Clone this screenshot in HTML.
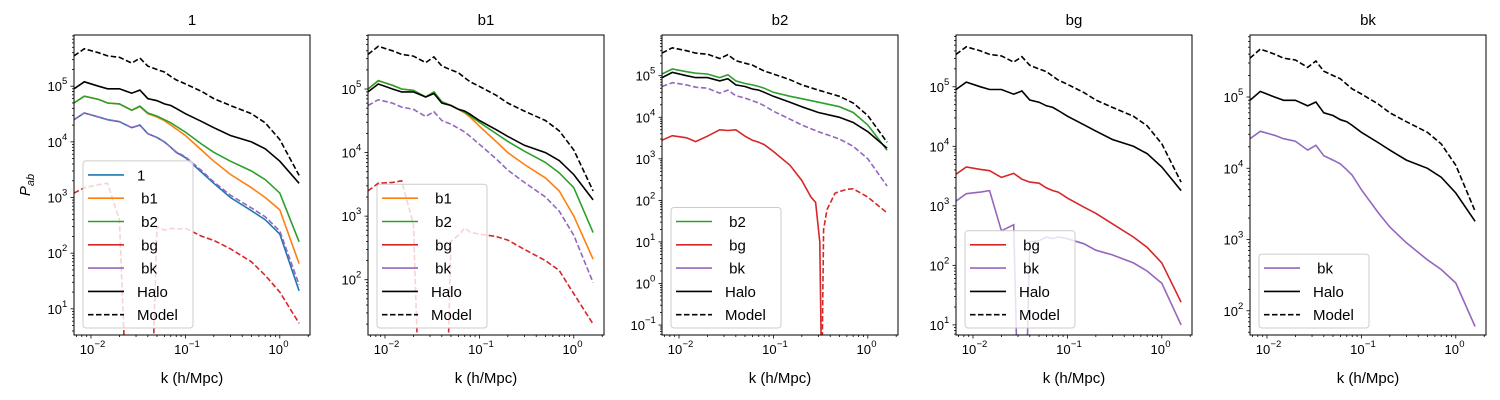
<!DOCTYPE html>
<html><head><meta charset="utf-8"><style>
html,body{margin:0;padding:0;background:#fff;width:1500px;height:400px;overflow:hidden;}
svg{display:block;font-family:"Liberation Sans","DejaVu Sans",sans-serif;}
</style></head><body>
<svg id="fig" width="1500" height="400" viewBox="0 0 1500 400"></svg>
<script>
// ---- data ----
const kGrid = [0.0066,0.0085,0.012,0.015,0.02,0.027,0.033,0.04,0.05,0.06,0.07,0.08,0.1,0.15,0.2,0.3,0.5,0.7,1.0,1.6];
const halo  = [9e4,1.2e5,1e5,9e4,9e4,7.5e4,8.5e4,6e4,5.5e4,4.8e4,4.5e4,4e4,3.2e4,2.3e4,1.8e4,1.3e4,1e4,7.5e3,4.5e3,1.8e3];
const model = [3.5e5,4.7e5,4e5,3.5e5,3.3e5,2.6e5,3.2e5,2.3e5,2e5,1.8e5,1.5e5,1.3e5,1.1e5,8e4,6e4,4.5e4,3.2e4,2.2e4,1.1e4,2.5e3];
// panel "1"
const p1One = [2.5e4,3.3e4,2.8e4,2.5e4,2.3e4,1.8e4,2e4,1.4e4,1.2e4,1e4,8e3,6.5e3,5.2e3,2.8e3,1.8e3,1e3,580,400,220,21];
const p1B1  = [5e4,6.6e4,5.8e4,5e4,4.8e4,3.7e4,4.3e4,3.2e4,2.8e4,2.4e4,2e4,1.7e4,1.3e4,7e3,4.5e3,2.6e3,1.5e3,1e3,600,65];
const p1B2  = [5e4,6.6e4,5.8e4,5e4,4.8e4,3.7e4,4.4e4,3.3e4,2.9e4,2.5e4,2.2e4,1.9e4,1.5e4,9e3,6.5e3,4.5e3,3e3,2.1e3,1.2e3,160];
const p1Bg  = [1.2e3,1.5e3,1.7e3,1.8e3,400,1e-3,1e-3,1e-3,300,260,280,270,280,200,170,120,70,40,20,5.5];
const p1Bk  = [2.5e4,3.3e4,2.8e4,2.5e4,2.3e4,1.8e4,2e4,1.4e4,1.2e4,1e4,8e3,6.6e3,5.4e3,3e3,1.9e3,1.1e3,650,450,250,27];
// panel "b1"
const p2B1  = [1e5,1.35e5,1.15e5,1e5,9.5e4,7.5e4,9e4,6.3e4,5.5e4,4.8e4,4.2e4,3.6e4,2.6e4,1.5e4,1e4,6.5e3,4e3,2.5e3,1e3,210];
const p2B2  = [1e5,1.35e5,1.15e5,1e5,9.5e4,7.5e4,9e4,6.3e4,5.5e4,4.8e4,4.3e4,3.8e4,3e4,2e4,1.5e4,1.05e4,7e3,4.8e3,2.8e3,550];
const p2Bg  = [2.5e3,3.3e3,3.4e3,3.6e3,750,1e-3,1e-3,1e-3,400,500,650,560,520,480,420,300,200,140,60,20];
const p2Bk  = [5.5e4,6.8e4,6e4,5.2e4,4.8e4,3.7e4,4.4e4,3.2e4,2.8e4,2.4e4,2.1e4,1.8e4,1.35e4,8e3,5.3e3,3.4e3,2e3,1.2e3,500,90];
// panel "b2"
const p3B2  = [1.1e5,1.45e5,1.25e5,1.15e5,1.1e5,9e4,1.05e5,7.5e4,6.5e4,6e4,5.5e4,5e4,4e4,3.2e4,2.8e4,2.3e4,1.8e4,1.3e4,6.5e3,1.6e3];
const p3Bk  = [5.5e4,6.8e4,6e4,5.3e4,5e4,3.8e4,4.5e4,3.3e4,2.9e4,2.5e4,2.2e4,1.9e4,1.4e4,9e3,6.5e3,4.5e3,3e3,2e3,1e3,220];
const kBgPos3 = [0.0066,0.0085,0.012,0.015,0.02,0.027,0.033,0.04,0.05,0.06,0.07,0.08,0.1,0.15,0.2,0.25,0.28,0.31,0.32];
const p3BgPos = [2.8e3,3.6e3,3.2e3,2.6e3,3.5e3,5e3,4.8e3,5e3,3.5e3,2.8e3,2.5e3,2.2e3,1.5e3,700,300,120,90,10,0.05];
const kBgNeg3 = [0.33,0.34,0.37,0.45,0.6,0.7,1.0,1.6];
const p3BgNeg = [0.05,20,60,150,185,190,120,50];
// panel "bg"
const p4Bg  = [3.4e3,4.5e3,4.1e3,3.9e3,3e3,3.5e3,2.8e3,2.5e3,2.4e3,2e3,1.8e3,1.7e3,1.35e3,950,750,500,300,200,110,24];
const p4Bk  = [1.2e3,1.6e3,1.7e3,1.8e3,380,480,1e-3,250,260,300,280,300,280,230,180,150,110,80,50,10];
// panel "bk"
const p5Bk  = [2.6e4,3.3e4,2.9e4,2.6e4,2.4e4,1.8e4,2.1e4,1.5e4,1.3e4,1.15e4,9.5e3,8e3,5e3,2.4e3,1.5e3,900,520,380,245,60];
// axes
const panelTitles = ["1","b1","b2","bg","bk"];
const yMinLog = [0.53,1.13,-1.24,0.83,1.66];
const yMaxLog = [5.92,5.85,5.98,5.87,5.87];
const xTickExps = [-2,-1,0];

const C = {blue:"#1f77b4",orange:"#ff7f0e",green:"#2ca02c",red:"#d62728",purple:"#9467bd",black:"#000"};
const svg = document.getElementById('fig');
const NS = "http://www.w3.org/2000/svg";
function mk(tag, attrs, parent){const e=document.createElementNS(NS,tag);for(const a in attrs)e.setAttribute(a,attrs[a]);(parent||svg).appendChild(e);return e;}

const panels = [
  {series:[{k:kGrid,v:p1One,c:C.blue,d:false,n:"1"},{k:kGrid,v:p1B1,c:C.orange,d:false,n:"b1"},{k:kGrid,v:p1B2,c:C.green,d:false,n:"b2"},{k:kGrid,v:p1Bg,c:C.red,d:true,n:"bg"},{k:kGrid,v:p1Bk,c:C.purple,d:true,n:"bk"}],
   legend:[["1",C.blue,false],[" b1",C.orange,false],[" b2",C.green,false],[" bg",C.red,false],[" bk",C.purple,false],["Halo","#000",false],["Model","#000",true]]},
  {series:[{k:kGrid,v:p2B1,c:C.orange,d:false,n:"b1"},{k:kGrid,v:p2B2,c:C.green,d:false,n:"b2"},{k:kGrid,v:p2Bg,c:C.red,d:true,n:"bg"},{k:kGrid,v:p2Bk,c:C.purple,d:true,n:"bk"}],
   legend:[[" b1",C.orange,false],[" b2",C.green,false],[" bg",C.red,false],[" bk",C.purple,false],["Halo","#000",false],["Model","#000",true]]},
  {series:[{k:kGrid,v:p3B2,c:C.green,d:false,n:"b2"},{k:kBgPos3,v:p3BgPos,c:C.red,d:false,n:"bg"},{k:kBgNeg3,v:p3BgNeg,c:C.red,d:true,n:"bg-neg"},{k:kGrid,v:p3Bk,c:C.purple,d:true,n:"bk"}],
   legend:[[" b2",C.green,false],[" bg",C.red,false],[" bk",C.purple,false],["Halo","#000",false],["Model","#000",true]]},
  {series:[{k:kGrid,v:p4Bg,c:C.red,d:false,n:"bg"},{k:kGrid,v:p4Bk,c:C.purple,d:false,n:"bk"}],
   legend:[[" bg",C.red,false],[" bk",C.purple,false],["Halo","#000",false],["Model","#000",true]]},
  {series:[{k:kGrid,v:p5Bk,c:C.purple,d:false,n:"bk"}],
   legend:[[" bk",C.purple,false],["Halo","#000",false],["Model","#000",true]]}
];

const lefts=[74,368,662,956,1250], W=236, TOP=35, BOT=335;
const xMinLog=-2.18, xMaxLog=0.32;

panels.forEach((p,i)=>{
  const L=lefts[i];
  const g=mk('g',{});
  
  
  const xs=k=>L+(Math.log10(k)-xMinLog)/(xMaxLog-xMinLog)*W;
  const ys=v=>BOT-(Math.log10(Math.max(v,1e-9))-yMinLog[i])/(yMaxLog[i]-yMinLog[i])*(BOT-TOP);
  const cp=mk('clipPath',{id:'cp'+i},g); mk('rect',{x:L,y:TOP,width:W,height:BOT-TOP},cp);
  const plot=mk('g',{'clip-path':'url(#cp'+i+')'},g);
  const all=[...p.series,{k:kGrid,v:halo,c:"#000",d:false,n:"halo"},{k:kGrid,v:model,c:"#000",d:true,n:"model"}];
  all.forEach(s=>{
    const pts=s.k.map((k,j)=>xs(k).toFixed(1)+','+ys(s.v[j]).toFixed(1)).join(' ');
    const pl=mk('polyline',{points:pts,fill:'none',stroke:s.c,'stroke-width':1.6,'stroke-dasharray':s.d?'5.5,2.5':'none'},plot);
    
    
  });
  const fr=mk('rect',{x:L,y:TOP,width:W,height:BOT-TOP,fill:'none',stroke:'#000','stroke-width':1},g);
  
  
  for(let e=-3;e<=1;e++){for(let m=1;m<10;m++){const k=m*Math.pow(10,e);const lk=Math.log10(k);if(lk<xMinLog||lk>xMaxLog)continue;const x=xs(k);mk('line',{x1:x,x2:x,y1:BOT,y2:BOT+(m===1?3.5:2),stroke:'#000','stroke-width':0.8},g);}}
  xTickExps.forEach(e=>{const x=xs(Math.pow(10,e));
    const t=mk('text',{x:x-4,y:BOT+19,'text-anchor':'middle','font-size':13},g);t.textContent='10';
    
    const s=mk('text',{x:x+3.5,y:BOT+12,'text-anchor':'start','font-size':9.5},g);s.textContent=(e<0?'\u2212'+(-e):String(e));});
  for(let e=Math.floor(yMinLog[i]);e<=Math.ceil(yMaxLog[i]);e++){for(let m=1;m<10;m++){const lv=e+Math.log10(m);if(lv<yMinLog[i]||lv>yMaxLog[i])continue;const y=ys(Math.pow(10,lv));mk('line',{x1:L-(m===1?3.5:2),x2:L,y1:y,y2:y,stroke:'#000','stroke-width':0.8},g);
    if(m===1){const ex=(e<0?'\u2212'+(-e):String(e));const sw=e<0?11:6;
      const t=mk('text',{x:L-6-sw,y:y+5,'text-anchor':'end','font-size':13},g);t.textContent='10';
      
      const s=mk('text',{x:L-6-sw,y:y-2,'text-anchor':'start','font-size':9.5},g);s.textContent=ex;}}}
  const tt=mk('text',{x:L+W/2,y:25,'text-anchor':'middle','font-size':15},g);tt.textContent=panelTitles[i];
  
  const xl=mk('text',{x:L+W/2,y:383,'text-anchor':'middle','font-size':15},g);xl.textContent='k (h/Mpc)';
  
  const n=p.legend.length, bot=328, step=23.3, top=bot-n*step-4;
  const lg=mk('g',{},g);
  
  mk('rect',{x:L+9,y:top,width:110,height:bot-top,rx:3,fill:'#fff','fill-opacity':0.8,stroke:'#ccc','stroke-width':1},lg);
  p.legend.forEach((en,j)=>{const y=top+14+j*step;
    mk('line',{x1:L+14,x2:L+50,y1:y,y2:y,stroke:en[1],'stroke-width':1.6,'stroke-dasharray':en[2]?'5.5,2.5':'none'},lg);
    const t=mk('text',{x:L+63,y:y+5.5,'font-size':15},lg);t.textContent=en[0].replace(/^ /,'\u00a0');
    });
});
const yl=mk('text',{x:30,y:185,'text-anchor':'middle','font-size':15,'font-style':'italic',transform:'rotate(-90 30 185)'});
yl.innerHTML='P<tspan dy="4" font-size="11">ab</tspan>';


</script>
</body></html>
